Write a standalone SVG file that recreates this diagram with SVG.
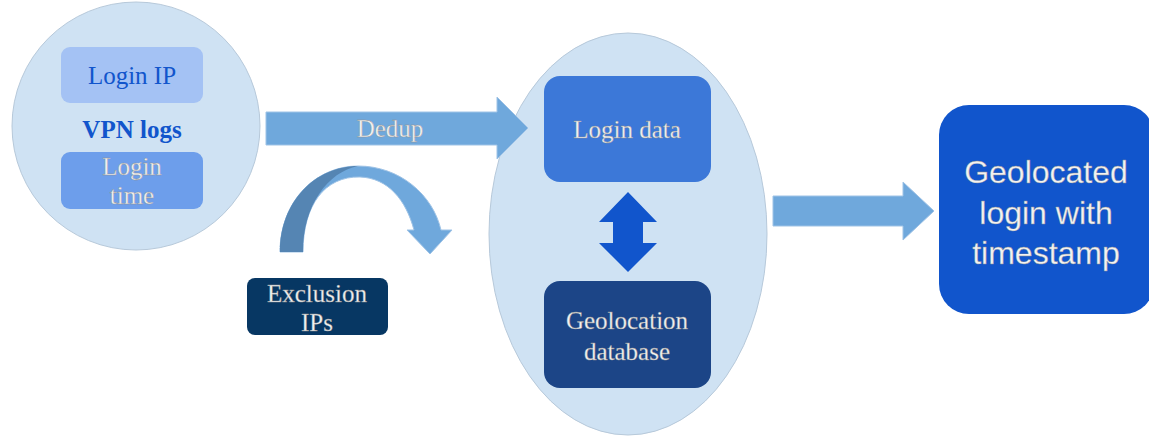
<svg xmlns="http://www.w3.org/2000/svg" width="1149" height="437" viewBox="0 0 1149 437">
<style>
.serif{font-family:"Liberation Serif","Times New Roman",serif;font-size:25px;text-anchor:middle}
.lt{fill:#f2f2f2;stroke:#8f8f8f;stroke-width:0.35px}
.bg{fill:#cfe2f3;stroke:#b7c9da;stroke-width:1}
.arr{fill:#6fa8dc;stroke:#9fc3e6;stroke-width:1}
</style>
<rect width="1149" height="437" fill="#ffffff"/>
<g id="vpn-logs">
<circle class="bg" cx="136" cy="126" r="124"/>
<text class="serif" x="132" y="138" font-weight="bold" fill="#1155cc">VPN logs</text>
</g>
<g id="login-ip">
<rect x="61" y="47" width="142" height="56" rx="9" fill="#a4c2f4"/>
<text class="serif" x="132" y="84" fill="#1155cc">Login IP</text>
</g>
<g id="login-time">
<rect x="61" y="152" width="142" height="57" rx="9" fill="#6d9eeb"/>
<text class="serif lt" x="132" y="175">Login</text>
<text class="serif lt" x="132" y="204">time</text>
</g>
<g id="middle">
<ellipse class="bg" cx="628" cy="234" rx="139" ry="201"/>
</g>
<g id="login-data">
<rect x="544" y="76" width="167" height="106" rx="16" fill="#3c78d8"/>
<text class="serif lt" x="627" y="138">Login data</text>
</g>
<g id="geolocation-database">
<rect x="544" y="281" width="167" height="107" rx="16" fill="#1c4587"/>
<text class="serif lt" x="627" y="329">Geolocation</text>
<text class="serif lt" x="627" y="360">database</text>
</g>
<g id="exclusion-ips">
<rect x="247" y="278" width="141" height="57" rx="8" fill="#073763"/>
<text class="serif lt" x="317" y="302">Exclusion</text>
<text class="serif lt" x="317" y="331">IPs</text>
</g>
<g id="geolocated-login">
<rect x="939" y="105" width="215" height="209" rx="30" fill="#1155cc"/>
<text x="1046" y="183" font-family="'Liberation Sans',Arial,sans-serif" font-size="32" text-anchor="middle" class="lt">Geolocated</text>
<text x="1046" y="224" font-family="'Liberation Sans',Arial,sans-serif" font-size="32" text-anchor="middle" class="lt">login with</text>
<text x="1046" y="264" font-family="'Liberation Sans',Arial,sans-serif" font-size="32" text-anchor="middle" class="lt">timestamp</text>
</g>
<g id="connectors">
<path class="arr" d="M266,112 L497,112 L497,97 L528,128 L497,159 L497,145 L266,145 Z"/>
<text class="serif lt" x="390" y="137">Dedup</text>
<path class="arr" d="M773,196 L903,196 L903,182 L934,211 L903,240 L903,226 L773,226 Z"/>
<path d="M628,192 L657,222 L643,222 L643,243 L657,243 L628,272 L599,243 L613,243 L613,222 L599,222 Z" fill="#1155cc"/>
<path class="arr" d="M280,252 C280,202 315,166 358,166 C400,166 433,195 441,230 L452,230 L430,254 L407,230 L414,230 C406,200 388,178 360,177 C325,176 303,205 303,252 Z"/>
<path d="M280,252 C280,202 315,166 358,166 C328,172 303,205 303,252 Z" fill="#5585b3"/>
</g>
</svg>
